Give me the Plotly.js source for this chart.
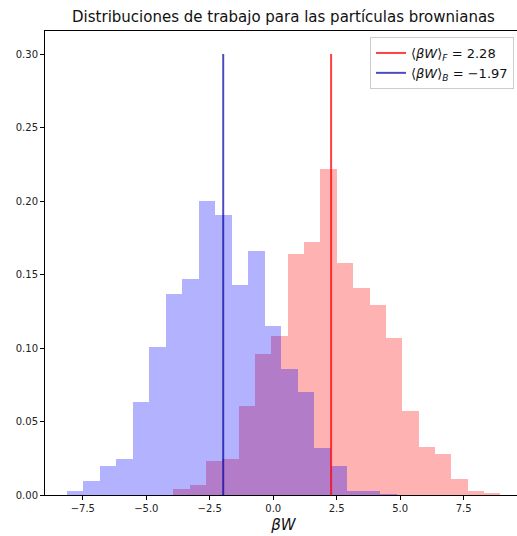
<!DOCTYPE html>
<html>
<head>
<meta charset="utf-8">
<script src="https://cdn.plot.ly/plotly-3.0.1.min.js"></script>
<style>
html, body { margin: 0; padding: 0; overflow: hidden; background: #fff; }
#chart { width: 525px; height: 536px; }
</style>
</head>
<body>
<div id="chart"></div>
<script>
// Forward work histogram (density), 20 bins
const forwardStart = -3.94;
const forwardEnd = 8.95;
const forwardDensity = [0.0041, 0.0066, 0.0231, 0.0245, 0.0603, 0.0959, 0.108, 0.164, 0.172, 0.2215,
                        0.158, 0.141, 0.129, 0.107, 0.0574, 0.0329, 0.0277, 0.0109, 0.003, 0.0014];
// Backward work histogram (density), 20 bins
const backwardStart = -8.13;
const backwardEnd = 4.86;
const backwardDensity = [0.0027, 0.0093, 0.0197, 0.0247, 0.0635, 0.101, 0.1365, 0.147, 0.1998, 0.1905,
                         0.143, 0.1658, 0.115, 0.0855, 0.0703, 0.032, 0.0197, 0.003, 0.003, 0.001];
// Mean works
const meanForward = 2.28;
const meanBackward = -1.97;
const lineTop = 0.30;
const xTickVals = [-7.5, -5.0, -2.5, 0.0, 2.5, 5.0, 7.5];
const xTickText = ["\u22127.5", "\u22125.0", "\u22122.5", "0.0", "2.5", "5.0", "7.5"];
const yTickVals = [0.00, 0.05, 0.10, 0.15, 0.20, 0.25, 0.30];

function binCenters(start, end, n) {
  const w = (end - start) / n;
  const c = [];
  for (let i = 0; i < n; i++) c.push(start + (i + 0.5) * w);
  return { centers: c, width: w };
}
const fb = binCenters(forwardStart, forwardEnd, forwardDensity.length);
const bb = binCenters(backwardStart, backwardEnd, backwardDensity.length);

const traces = [
  {
    type: 'bar', x: fb.centers, y: forwardDensity, width: fb.width,
    marker: { color: 'rgba(255,0,0,0.3)', line: { width: 0 } },
    showlegend: false, hoverinfo: 'skip'
  },
  {
    type: 'bar', x: bb.centers, y: backwardDensity, width: bb.width,
    marker: { color: 'rgba(0,0,255,0.3)', line: { width: 0 } },
    showlegend: false, hoverinfo: 'skip'
  },
  {
    type: 'scatter', mode: 'lines', x: [meanForward, meanForward], y: [0, lineTop],
    line: { color: 'rgba(255,0,0,0.75)', width: 2 },
    name: '\u27E8<i>\u03B2W</i>\u27E9<sub><i>F</i></sub> = 2.28'
  },
  {
    type: 'scatter', mode: 'lines', x: [meanBackward, meanBackward], y: [0, lineTop],
    line: { color: 'rgba(0,0,160,0.7)', width: 2 },
    name: '\u27E8<i>\u03B2W</i>\u27E9<sub><i>B</i></sub> = \u22121.97'
  }
];

const layout = {
  width: 525, height: 536,
  margin: { l: 45, r: 3, t: 31, b: 41 },
  paper_bgcolor: '#fff', plot_bgcolor: '#fff',
  barmode: 'overlay', bargap: 0,
  font: { family: 'DejaVu Sans', size: 10, color: '#222' },
  title: {
    text: 'Distribuciones de trabajo para las partículas brownianas',
    font: { family: 'DejaVu Sans', size: 15, color: '#111' },
    x: 0.5, xref: 'paper', xanchor: 'center',
    y: 1 - 17 / 536, yref: 'container', yanchor: 'middle'
  },
  xaxis: {
    range: [-8.99, 9.8], showgrid: false, zeroline: false,
    showline: true, linecolor: '#000', linewidth: 1, mirror: true,
    ticks: 'outside', ticklen: 4, tickcolor: '#000', tickwidth: 1,
    tickvals: xTickVals, ticktext: xTickText,
    tickfont: { family: 'DejaVu Sans', size: 10, color: '#222' },
    title: { text: '<i>\u03B2W</i>', font: { family: 'DejaVu Sans', size: 15, color: '#111' }, standoff: 6 }
  },
  yaxis: {
    range: [0, 0.3157], showgrid: false, zeroline: false,
    showline: true, linecolor: '#000', linewidth: 1, mirror: true,
    ticks: 'outside', ticklen: 4, tickcolor: '#000', tickwidth: 1,
    tickvals: yTickVals, tickformat: '.2f',
    tickfont: { family: 'DejaVu Sans', size: 10, color: '#222' }
  },
  legend: {
    x: (514 - 45) / 477, xanchor: 'right', xref: 'paper',
    y: (495 - 37) / 464, yanchor: 'top', yref: 'paper',
    bgcolor: 'rgba(255,255,255,0.85)', bordercolor: '#ccc', borderwidth: 1,
    font: { family: 'DejaVu Sans', size: 13, color: '#111' },
    tracegroupgap: 0
  },
  hovermode: false
};

Plotly.newPlot('chart', traces, layout, { displayModeBar: false, staticPlot: true });
</script>
</body>
</html>
